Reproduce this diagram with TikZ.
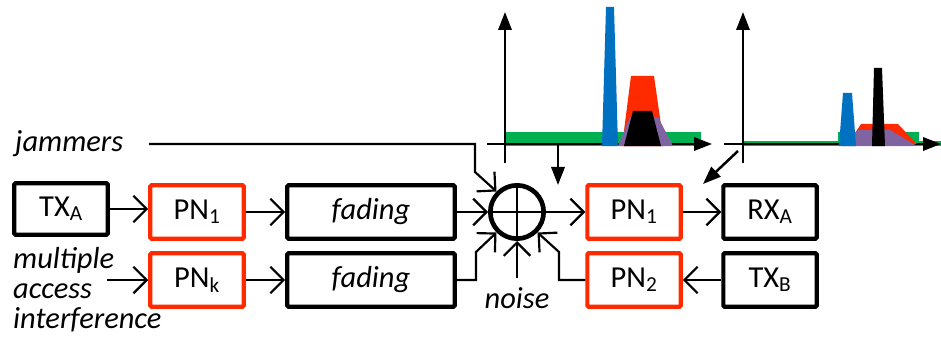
\documentclass[tikz,border=0pt]{standalone}
\usepackage{fontspec}
\setmainfont{Carlito}
\usetikzlibrary{arrows.meta}
\definecolor{pnred}{HTML}{FF2A00}
\definecolor{specblue}{HTML}{0070C0}
\definecolor{specgreen}{HTML}{00B050}
\definecolor{specpurple}{HTML}{8064A2}
\begin{document}
\begin{tikzpicture}[x=0.03cm,y=-0.03cm]
\tikzset{
    panel/.style={draw,line width=0.125cm,rounded corners=1pt,minimum height=1.6cm,inner sep=0pt,font=\fontsize{26}{29}\selectfont},
    code/.style={panel,draw=pnred,minimum width=2.8cm},
    unit/.style={panel,minimum width=2.8cm},
    fade/.style={panel,minimum width=5.02cm,font=\fontsize{26}{29}\selectfont\itshape},
    label/.style={font=\fontsize{26}{25.600}\selectfont\itshape,inner sep=0pt,align=left},
    flow/.style={-{Straight Barb[length=4mm,width=8mm]},line width=0.065cm},
    wire/.style={line width=0.06cm},
    axis/.style={-{Triangle[length=5.4mm,width=4mm]},line width=0.07cm},
    pointer/.style={-{Triangle[length=5.4mm,width=4mm]},line width=0.075cm}
}
\useasboundingbox (0,0) rectangle (941,339);

% blocks
\node[unit,minimum height=1.54cm] (txa) at (61,209) {TX\textsubscript{A}};
\node[code] (pn1) at (197,212) {PN\textsubscript{1}};
\node[fade] (fad1) at (371,212) {fading};
\node[code] (pnk) at (197,280) {PN\textsubscript{k}};
\node[fade] (fad2) at (371,280) {fading};
\node[circle,draw,line width=0.14cm,minimum size=1.6cm,inner sep=0pt] (sum) at (517,212) {};
\node[code] (pnr1) at (634,212) {PN\textsubscript{1}};
\node[code] (pnr2) at (634,280) {PN\textsubscript{2}};
\node[unit] (rxa) at (770,212) {RX\textsubscript{A}};
\node[unit] (txb) at (770,280) {TX\textsubscript{B}};

% labels
\node[label,anchor=north west] (mai) at (13,247) {multiple\\access\\interference};
\node[label,anchor=west] (jam) at (15,144) {jammers};
\node[label] (noise) at (517,298) {noise};

% free ends and bends
\coordinate (jam0) at (149,144);
\coordinate (jam1) at (475,144);
\coordinate (jam2) at (475,172);
\coordinate (mai0) at (107,280);
\coordinate (fad2a) at (476,280);
\coordinate (fad2b) at (476,252);
\coordinate (pn2a) at (559,280);
\coordinate (pn2b) at (559,252);

% connectors
\draw[flow] (txa.east) -- (txa.east -| pn1.west);
\draw[flow] (pn1) -- (fad1);
\draw[flow] (mai0) -- (pnk.west);
\draw[flow] (pnk) -- (fad2);
\draw[flow] (fad1) -- (sum);
\draw[flow] (jam0) -- (jam1) -- (jam2) -- (sum.135);
\draw[flow] (fad2.east) -- (fad2a) -- (fad2b) -- (sum.225);
\draw[flow] (noise.north) ++(0,-9) -- (sum.south);
\draw[flow] (pnr2.west) -- (pn2a) -- (pn2b) -- (sum.315);
\draw[flow] (sum) -- (pnr1);
\draw[flow] (pnr1) -- (rxa);
\draw[flow] (txb) -- (pnr2);
\draw[wire] (sum.north) -- (sum.south);
\draw[wire] (sum.west) -- (sum.east);

% left spectrum
\fill[specgreen] (505,132) rectangle (701,146);
\draw[axis] (487,144) -- (712,144);
\draw[axis] (505,163) -- (505,12);
\fill[pnred] (622,146) -- (631,76) -- (654,76) -- (664,146) -- cycle;
\fill[specpurple] (618,146) -- (630,117) -- (658,117) -- (673,146) -- cycle;
\fill[black] (624,146) -- (633,111) -- (652,111) -- (661,146) -- cycle;
\fill[specblue] (602,146) -- (606,7) -- (614,7) -- (618,146) -- cycle;

% right spectrum
\fill[specgreen] (743,141.500) rectangle (941,146);
\fill[specgreen] (838,132) rectangle (919,146);
\draw[axis] (724,144) -- (941,144);
\draw[axis] (743,163) -- (743,12);
\fill[pnred] (855,133) -- (861,124) -- (898,124) -- (917,144) -- (855,146) -- cycle;
\fill[specpurple] (842,146) -- (858,130) -- (890,130) -- (917,146) -- cycle;
\fill[specblue] (839,146) -- (843,93) -- (852,93) -- (856,146) -- cycle;
\fill[black] (872,146) -- (874,68) -- (882,68) -- (885,146) -- cycle;

% pointers to the receiver
\coordinate (spec1) at (558,144);
\coordinate (spec1a) at (558,185);
\coordinate (spec2) at (738,151);
\coordinate (spec2a) at (703,184);
\draw[pointer] (spec1) -- (spec1a);
\draw[pointer] (spec2) -- (spec2a);
\end{tikzpicture}
\end{document}
